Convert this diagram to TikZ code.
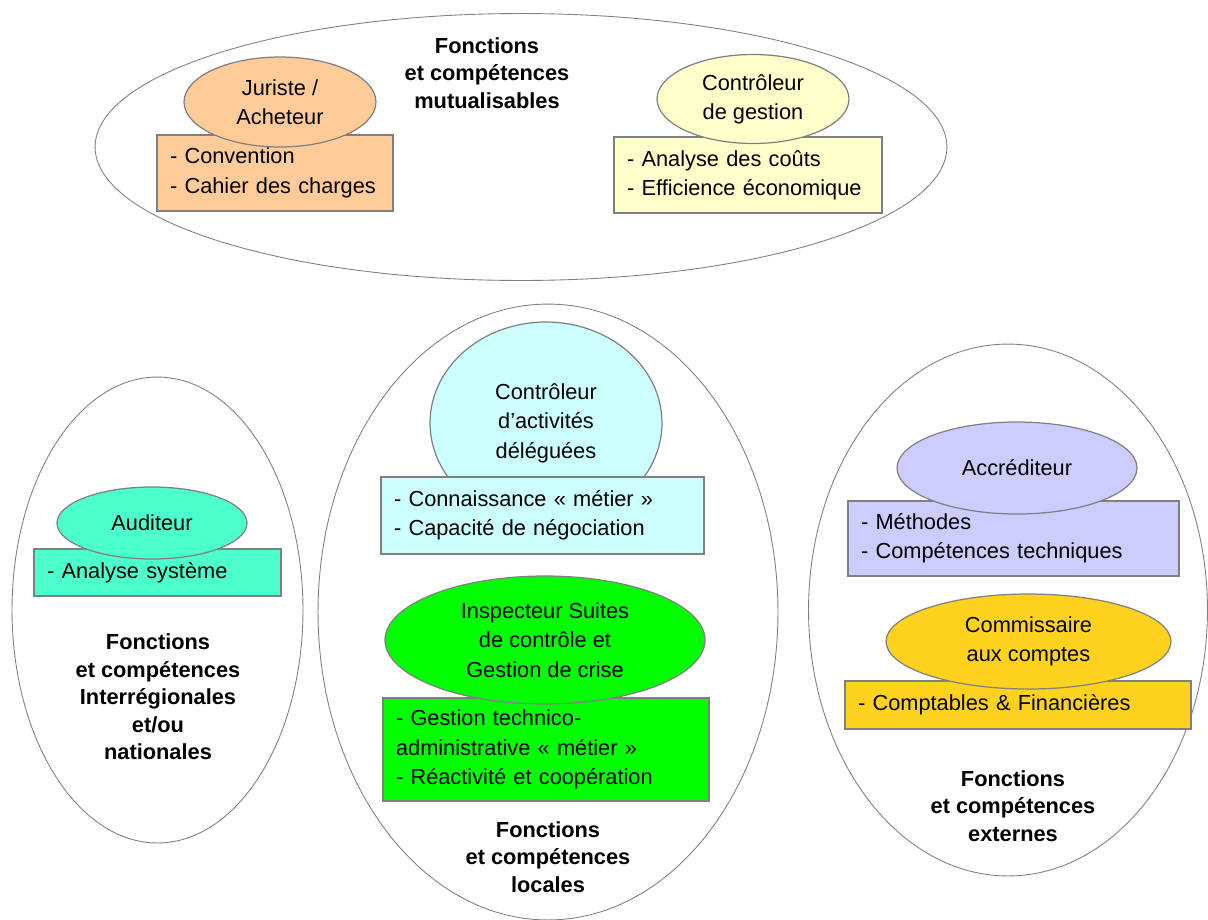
\documentclass[tikz,border=0pt]{standalone}
\usepackage{fontspec}
\setmainfont{Liberation Sans}
\usetikzlibrary{shapes.geometric}
\definecolor{edge}{HTML}{808080}
\definecolor{peach}{HTML}{FFCC99}
\definecolor{cream}{HTML}{FFFFCC}
\definecolor{aqua}{HTML}{4DFFCC}
\definecolor{iceblue}{HTML}{CCFFFF}
\definecolor{greenfill}{HTML}{00FF00}
\definecolor{lavender}{HTML}{CCCCFF}
\definecolor{goldfill}{HTML}{FFD21E}
\newcommand{\rolefont}{\fontsize{12.4}{16.7}\selectfont}
\newcommand{\titlefont}{\bfseries\fontsize{12.4}{15.7}\selectfont}
\tikzstyle{group}=[ellipse, draw=edge, line width=0.5pt, inner sep=0pt]
\tikzset{role/.style={ellipse, draw=edge, fill=#1, line width=0.7pt, inner sep=0pt, align=center, font=\rolefont},
  tasks/.style={rectangle, draw=edge, fill=#1, line width=1.1pt, inner xsep=0.26cm, inner ysep=0pt, align=left, font=\rolefont},
  title/.style={align=center, font=\titlefont}}

\begin{document}
\begin{tikzpicture}[x=0.02cm, y=-0.02cm]
    \useasboundingbox (0,0) rectangle (1208,920);
    \node[group, minimum width=17.04cm, minimum height=5.34cm] (mutu) at (521,147) {};
    \node[group, minimum width=5.82cm, minimum height=9.32cm] (inter) at (157.5,610) {};
    \node[group, minimum width=9.2cm, minimum height=12.32cm] (local) at (548,612) {};
    \node[group, minimum width=7.98cm, minimum height=10.64cm] (extern) at (1008,610) {};

    \node[tasks=peach, text width=4.2cm, minimum height=1.52cm] (jurbox) at (275,173) {- Convention\\- Cahier des charges};
    \node[role=peach, minimum width=3.84cm, minimum height=1.8cm] (jur) at (280,102) {Juriste /\\Acheteur};
    \node[tasks=cream, text width=4.84cm, minimum height=1.52cm] (cdgbox) at (748,175) {- Analyse des coûts\\- Efficience économique};
    \node[role=cream, minimum width=3.84cm, minimum height=1.78cm] (cdg) at (753,99) {Contrôleur\\de gestion};

    \node[tasks=aqua, text width=4.42cm, minimum height=0.94cm] (audbox) at (157.5,572.5) {- Analyse système};
    \node[role=aqua, minimum width=3.8cm, minimum height=1.44cm] (aud) at (152,523) {Auditeur};

    \node[role=iceblue, minimum width=4.64cm, minimum height=4.04cm] (cad) at (546,423) {Contrôleur\\d’activités\\déléguées};
    \node[tasks=iceblue, text width=5.94cm, minimum height=1.54cm] (cadbox) at (542.5,515.5) {- Connaissance « métier »\\- Capacité de négociation};
    \node[tasks=greenfill, text width=6.0cm, minimum height=2.06cm] (inspbox) at (546,749.5) {- Gestion technico-\\administrative « métier »\\- Réactivité et coopération};
    \node[role=greenfill, minimum width=6.4cm, minimum height=2.56cm] (insp) at (545,640) {Inspecteur Suites\\de contrôle et\\Gestion de crise};

    \node[tasks=lavender, text width=6.1cm, minimum height=1.5cm] (accrbox) at (1013.5,538.5) {- Méthodes\\- Compétences techniques};
    \node[role=lavender, minimum width=4.8cm, minimum height=1.84cm] (accr) at (1017,468) {Accréditeur};
    \node[tasks=goldfill, text width=6.4cm, minimum height=0.96cm] (cacbox) at (1018,705) {- Comptables \& Financières};
    \node[role=goldfill, minimum width=5.7cm, minimum height=1.9cm] (cac) at (1028.5,641.5) {Commissaire\\aux comptes};

    \node[title] (tmutu) at (487,73) {Fonctions\\et compétences\\mutualisables};
    \node[title] (tinter) at (158,697) {Fonctions\\et compétences\\Interrégionales\\et/ou\\nationales};
    \node[title] (tlocal) at (548,857) {Fonctions\\et compétences\\locales};
    \node[title] (textern) at (1013,806) {Fonctions\\et compétences\\externes};
  \end{tikzpicture}
\end{document}
